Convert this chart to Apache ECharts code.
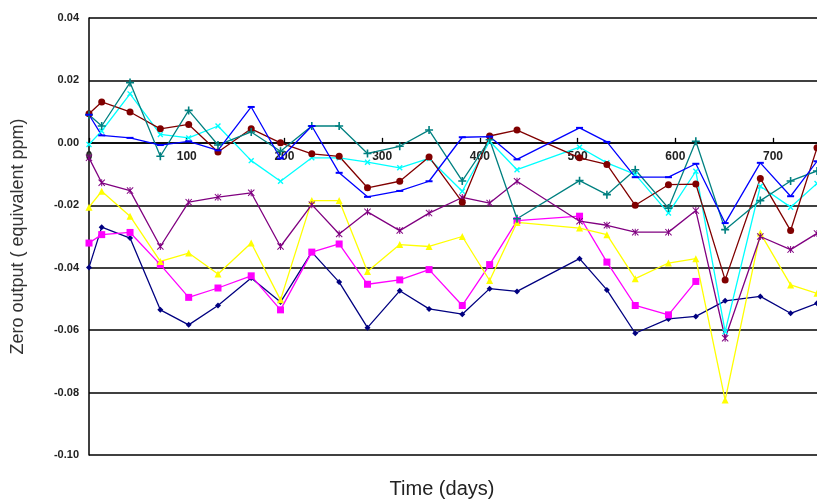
<!DOCTYPE html>
<html>
<head>
<meta charset="utf-8">
<script src="https://cdn.jsdelivr.net/npm/echarts@6/dist/echarts.min.js"></script>
<style>
  html, body { margin: 0; padding: 0; background: #fff; }
  #chart { width: 817px; height: 504px; }
</style>
</head>
<body>
<div id="chart"></div>
<script>
// sample times (days), shared by every series
const days = [0, 13, 42, 73, 102, 132, 166, 196, 228, 256, 285, 318, 348, 382, 410, 438, 502, 530, 559, 593, 621, 651, 687, 718, 745]

const navy = [-0.0399, -0.027, -0.0305, -0.0535, -0.0583, -0.0521, -0.0433, -0.051, -0.035, -0.0446, -0.0592, -0.0474, -0.0532, -0.0549, -0.0467, -0.0476, -0.0371, -0.0471, -0.061, -0.0564, -0.0556, -0.0506, -0.0492, -0.0546, -0.0514]
const magenta = [-0.0321, -0.0294, -0.0287, -0.039, -0.0495, -0.0465, -0.0426, -0.0535, -0.035, -0.0324, -0.0453, -0.0439, -0.0406, -0.0521, -0.039, -0.0249, -0.0235, -0.0382, -0.0521, -0.0551, -0.0444, null, null, null, null]
const yellow = [-0.0206, -0.0155, -0.0235, -0.038, -0.0353, -0.042, -0.0321, -0.0503, -0.0185, -0.0185, -0.0412, -0.0326, -0.0332, -0.03, -0.0441, -0.0255, -0.0273, -0.0294, -0.0435, -0.0385, -0.0371, -0.0824, -0.0289, -0.0455, -0.0482]
const cyan = [-0.0005, 0.0038, 0.0157, 0.0027, 0.0016, 0.0054, -0.0057, -0.0123, -0.0048, -0.0048, -0.0062, -0.008, -0.005, -0.0155, 0.0005, -0.0086, -0.0014, -0.0064, -0.0101, -0.0225, -0.0091, -0.0605, -0.0139, -0.0206, -0.013]
const purple = [-0.0048, -0.0128, -0.0153, -0.0332, -0.019, -0.0174, -0.016, -0.0332, -0.0198, -0.0292, -0.0221, -0.0281, -0.0225, -0.0175, -0.0193, -0.0123, -0.0251, -0.0264, -0.0286, -0.0286, -0.0217, -0.0626, -0.03, -0.0342, -0.029]
const brown = [0.0093, 0.0131, 0.0099, 0.0045, 0.0059, -0.0029, 0.0045, 0.0, -0.0035, -0.0043, -0.0144, -0.0123, -0.0045, -0.019, 0.0022, 0.0041, -0.0048, -0.0069, -0.02, -0.0134, -0.0132, -0.0439, -0.0114, -0.0281, -0.0016]
const teal = [0.009, 0.0054, 0.0193, -0.0043, 0.0104, -0.0007, 0.0035, -0.0027, 0.0054, 0.0054, -0.0034, -0.0011, 0.0041, -0.0122, 0.001, -0.0243, -0.0121, -0.0166, -0.0086, -0.0209, 0.0005, -0.0278, -0.0185, -0.0122, -0.009]
const blue = [0.009, 0.0024, 0.0016, -0.0007, 0.0005, -0.0024, 0.0115, -0.005, 0.0054, -0.0096, -0.0173, -0.0154, -0.0123, 0.0018, 0.002, -0.0053, 0.0048, 0.0003, -0.011, -0.011, -0.0067, -0.0257, -0.0064, -0.0171, -0.0059]

const yTicks = { min: -0.10, max: 0.04, step: 0.02 }
const xTicks = { min: 0, max: 745, step: 100 }
const xTickValues = [0, 100, 200, 300, 400, 500, 600, 700]

// marker shapes (excel style)
const PLUS = 'path://M4,0H6V4H10V6H6V10H4V6H0V4H4Z'
const STAR = 'path://M0,1L1,0L5,4L9,0L10,1L6,5L10,9L9,10L5,6L1,10L0,9L4,5Z M4.3,0H5.7V10H4.3Z'

const gridTop = 18
const gridBottom = 49
const gridH = 504 - gridTop - gridBottom
// x axis sits on the y = 0 line, labels included
const zeroOffset = -gridH * (0 - yTicks.min) / (yTicks.max - yTicks.min)

function pairs(ys) {
  return days.map((d, i) => [d, ys[i]])
}

function line(name, ys, color, symbol, size, rotate) {
  return {
    name: name,
    type: 'line',
    data: pairs(ys),
    symbol: symbol,
    symbolSize: size,
    symbolRotate: rotate || 0,
    showSymbol: true,
    connectNulls: false,
    lineStyle: { color: color, width: 1.3 },
    itemStyle: { color: color, borderWidth: 0 },
    z: 3
  }
}

const chart = echarts.init(document.getElementById('chart'))
chart.setOption({
  animation: false,
  backgroundColor: '#fff',
  title: {
    text: 'Time (days)',
    left: 437,
    top: 474,
    textAlign: 'center',
    textStyle: { fontFamily: 'Liberation Sans', fontSize: 20, fontWeight: 'normal', color: '#222' }
  },
  grid: { left: 89, right: 0, top: gridTop, bottom: gridBottom, containLabel: false },
  xAxis: {
    type: 'value',
    position: 'bottom',
    offset: zeroOffset,
    min: xTicks.min,
    max: xTicks.max,
    interval: xTicks.step,
    axisLine: { show: true, onZero: false, lineStyle: { color: '#000', width: 1.5 } },
    axisTick: { show: true, inside: true, length: 5, customValues: xTickValues, lineStyle: { color: '#000', width: 1.3 } },
    splitLine: { show: false },
    axisLabel: {
      margin: 8,
      customValues: xTickValues,
      fontFamily: 'Liberation Sans',
      fontSize: 12,
      fontWeight: 'bold',
      color: '#222',
      formatter: v => (v % 100 === 0 ? String(v) : '')
    }
  },
  yAxis: {
    type: 'value',
    min: yTicks.min,
    max: yTicks.max,
    interval: yTicks.step,
    name: 'Zero output ( equivalent ppm)',
    nameLocation: 'middle',
    nameGap: 62,
    nameTextStyle: { fontFamily: 'Liberation Sans', fontSize: 18, color: '#333' },
    axisLine: { show: true, lineStyle: { color: '#000', width: 1.5 } },
    axisTick: { show: false },
    splitLine: { show: true, lineStyle: { color: '#000', width: 1.5 } },
    axisLabel: {
      margin: 10,
      fontFamily: 'Liberation Sans',
      fontSize: 11,
      fontWeight: 'bold',
      color: '#222',
      formatter: v => v.toFixed(2)
    }
  },
  series: [
    line('s1', navy, '#000080', 'diamond', 6),
    line('s2', magenta, '#FF00FF', 'rect', 7),
    line('s3', yellow, '#FFFF00', 'triangle', 7),
    line('s4', cyan, '#00FFFF', PLUS, 7, 45),
    line('s5', purple, '#800080', STAR, 7),
    line('s6', brown, '#800000', 'circle', 7),
    line('s7', teal, '#008080', PLUS, 8),
    line('s8', blue, '#0000FF', 'rect', [7, 2])
  ]
})
</script>
</body>
</html>
